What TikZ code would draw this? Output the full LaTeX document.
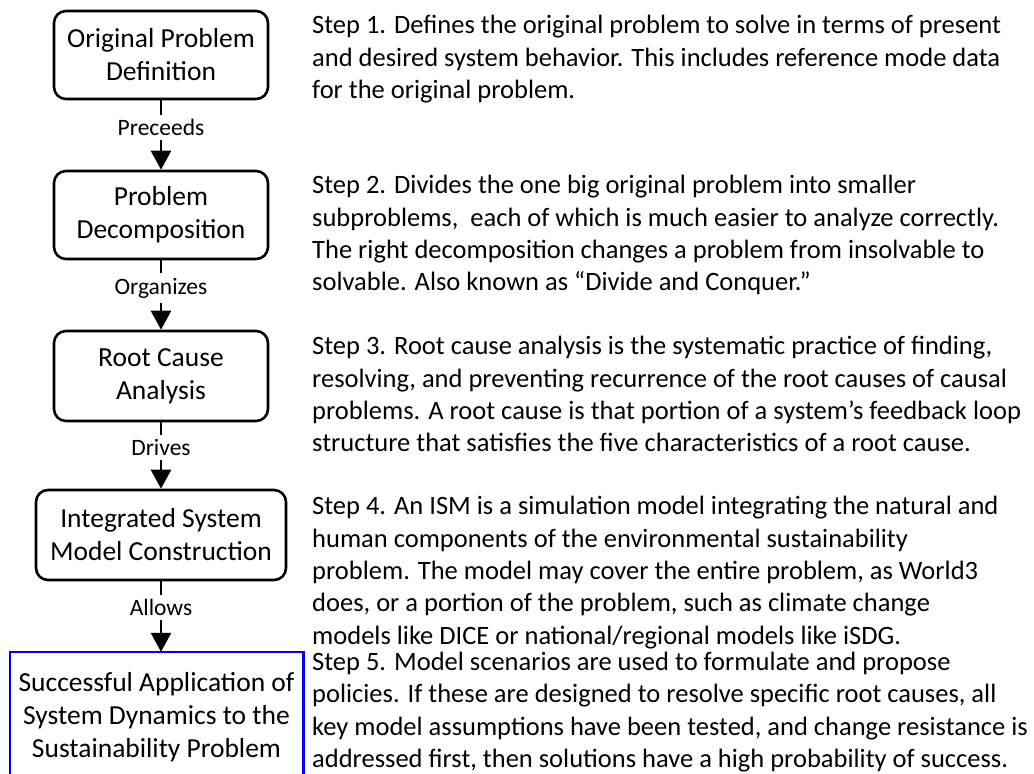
\documentclass[tikz,border=0pt]{standalone}
\usepackage{fontspec}
\setmainfont{Carlito}
\usetikzlibrary{arrows.meta}
\definecolor{frameblue}{RGB}{0,0,255}
\tikzset{
  stepbox/.style={draw=black, line width=2.6pt, rounded corners=12pt,
    align=center, inner sep=0pt, font=\fontsize{27.5}{33}\selectfont},
  goalbox/.style={align=center, inner sep=0pt,
    minimum width=293pt, minimum height=130pt,
    font=\fontsize{27.5}{33}\selectfont},
  goalframe/.style={draw=frameblue, line width=2.6pt},
  link/.style={line width=2.6pt, -{Triangle[width=20pt,length=19pt]}},
  linklabel/.style={fill=white, inner xsep=2pt, inner ysep=4.5pt,
    font=\fontsize{23.5}{28}\selectfont},
  % the base anchor of a multi-line note sits on its last line
  note/.style={anchor=base west, align=left, inner sep=0pt,
    font=\fontsize{26.5}{32.4}\selectfont}
}
\begin{document}
\begin{tikzpicture}[x=1pt,y=-1pt]
\useasboundingbox (0,0) rectangle (1034,774);

% process chain
\node[stepbox, minimum width=214pt, minimum height=88pt] (b1) at (161,55)
  {Original Problem\\Definition};
\node[stepbox, minimum width=214pt, minimum height=88pt] (b2) at (161,215)
  {Problem\\Decomposition};
\node[stepbox, minimum width=214pt, minimum height=90pt] (b3) at (161,376)
  {Root Cause\\Analysis};
\node[stepbox, minimum width=250pt, minimum height=90pt] (b4) at (161,535)
  {Integrated System\\Model Construction};
\node[goalbox] (b5) at (156.5,717)
  {Successful Application of\\System Dynamics to the\\Sustainability Problem};
\draw[goalframe] ([yshift=-40pt]b5.south west) |- (b5.north east)
  -- ([yshift=-40pt]b5.south east);

\draw[link] (b1) -- node[linklabel, pos=0.39] {Preceeds} (b2);
\draw[link] (b2) -- node[linklabel, pos=0.4] {Organizes} (b3);
\draw[link] (b3) -- node[linklabel, pos=0.38] {Drives} (b4);
\draw[link] (b4.south) -- node[linklabel, pos=0.37] {Allows} (b4.south |- b5.north);

% step descriptions
\node[note] (s1) at (312,98.6)
  {Step 1. Defines the original problem to solve in terms of present\\
   and desired system behavior. This includes reference mode data\\
   for the original problem.};
\node[note] (s2) at (312,290.9)
  {Step 2. Divides the one big original problem into smaller\\
   subproblems,\ \ each of which is much easier to analyze correctly.\\
   The right decomposition changes a problem from insolvable to\\
   solvable. Also known as “Divide and Conquer.”};
\node[note] (s3) at (312,451.9)
  {Step 3. Root cause analysis is the systematic practice of finding,\\
   resolving, and preventing recurrence of the root causes of causal\\
   problems. A root cause is that portion of a system’s feedback loop\\
   structure that satisfies the five characteristics of a root cause.};
\node[note] (s4) at (312,644.2)
  {Step 4. An ISM is a simulation model integrating the natural and\\
   human components of the environmental sustainability\\
   problem. The model may cover the entire problem, as World3\\
   does, or a portion of the problem, such as climate change\\
   models like DICE or national/regional models like iSDG.};
\node[note] (s5) at (312,767.5)
  {Step 5. Model scenarios are used to formulate and propose\\
   policies. If these are designed to resolve specific root causes, all\\
   key model assumptions have been tested, and change resistance is\\
   addressed first, then solutions have a high probability of success.};
\end{tikzpicture}
\end{document}
